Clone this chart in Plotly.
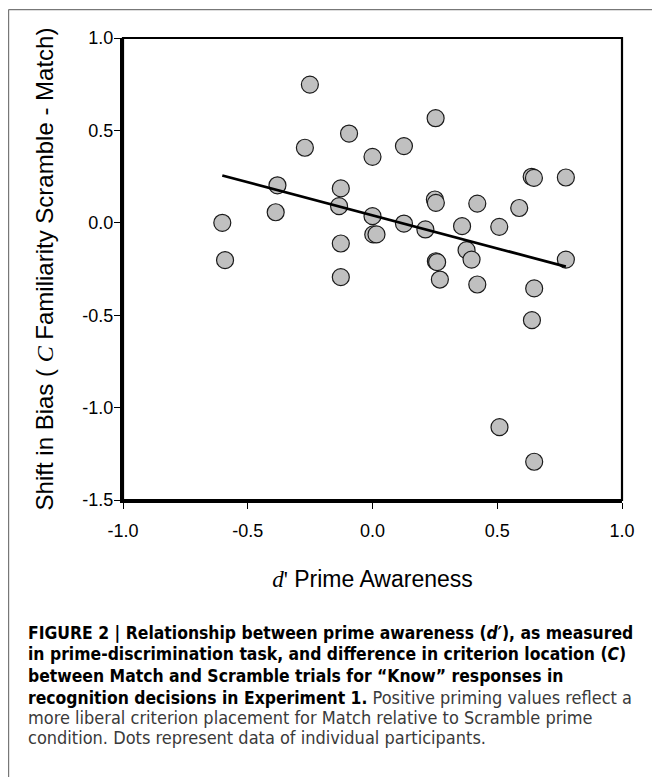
import plotly.graph_objects as go

# ---- data ----
prime_awareness = [-0.602, -0.591, -0.388, -0.381, -0.271, -0.251, -0.134, -0.127, -0.127, -0.127,
                   -0.094, 0.000, 0.000, 0.003, 0.016, 0.126, 0.126, 0.212, 0.253, 0.250,
                   0.254, 0.254, 0.259, 0.270, 0.359, 0.377, 0.397, 0.420, 0.420, 0.508,
                   0.509, 0.588, 0.638, 0.647, 0.648, 0.639, 0.648, 0.775, 0.775]
bias_shift = [0.000, -0.202, 0.057, 0.203, 0.406, 0.748, 0.090, 0.186, -0.112, -0.294,
              0.483, 0.357, 0.036, -0.063, -0.063, 0.415, -0.004, -0.036, 0.566, 0.126,
              0.108, -0.208, -0.213, -0.307, -0.018, -0.148, -0.199, 0.104, -0.334, -0.022,
              -1.106, 0.080, 0.249, 0.243, -0.355, -0.527, -1.293, 0.245, -0.199]
fit_x = [-0.602, 0.775]
fit_y = [0.256, -0.237]

x_ticks = [-1.0, -0.5, 0.0, 0.5, 1.0]
y_ticks = [1.0, 0.5, 0.0, -0.5, -1.0, -1.5]

NORMAL = "<span style='color:#3a3a3a;font-size:18px'>{}</span>"
caption_lines = [
    "<b>FIGURE 2 | Relationship between prime awareness (<i>d′</i>), as measured</b>",
    "<b>in prime-discrimination task, and difference in criterion location (<i>C</i>)</b>",
    "<b>between Match and Scramble trials for “Know” responses in</b>",
    "<b>recognition decisions in Experiment 1.</b>" + NORMAL.format(" Positive priming values reflect a"),
    NORMAL.format("more liberal criterion placement for Match relative to Scramble prime"),
    NORMAL.format("condition. Dots represent data of individual participants."),
]

# ---- layout geometry (pixels, page coordinates; the page body adds an 8px offset) ----
OFF = 8
W, H = 660 - OFF, 777 - OFF
L, R, T, B = 123 - OFF, 622 - OFF, 38 - OFF, 500 - OFF


def px_x(px):
    return (px - OFF - L) / (R - L)


def px_y(py):
    return (B - (py - OFF)) / (B - T)


fig = go.Figure()
fig.add_trace(go.Scatter(
    x=prime_awareness, y=bias_shift, mode="markers",
    marker=dict(size=17, color="#c0c0c0", line=dict(color="#1a1a1a", width=1.2)),
    showlegend=False, hoverinfo="x+y"))
fig.add_trace(go.Scatter(
    x=fit_x, y=fit_y, mode="lines",
    line=dict(color="black", width=2.7), showlegend=False, hoverinfo="skip"))

sans = "Liberation Sans, Arial, sans-serif"
tick_font = dict(family=sans, size=18, color="black")
fig.update_layout(
    width=W, height=H,
    margin=dict(l=L, r=W - R, t=T, b=H - B, pad=0),
    paper_bgcolor="white", plot_bgcolor="white",
    font=tick_font,
    xaxis=dict(range=[-1.0, 1.0], tickvals=x_ticks, ticktext=[f"{v:.1f}" for v in x_ticks],
               ticks="outside", ticklen=6, tickwidth=1.3, tickcolor="black",
               showline=True, linewidth=3, linecolor="black", showgrid=False, zeroline=False,
               tickfont=tick_font, ticklabelstandoff=6,
               title=dict(text="<span style='font-family:Liberation Serif'><i>d</i>'</span> Prime Awareness",
                          font=dict(family=sans, size=23, color="black"),
                          standoff=32)),
    yaxis=dict(range=[-1.5, 1.0], tickvals=y_ticks, ticktext=[f"{v:.1f}" for v in y_ticks],
               ticks="outside", ticklen=6, tickwidth=1.3, tickcolor="black",
               showline=True, linewidth=3, linecolor="black", showgrid=False, zeroline=False,
               tickfont=tick_font, ticklabelstandoff=-3,
               title=dict(text="Shift in Bias ( <span style='font-family:Liberation Serif'><i>C</i></span> Familiarity Scramble - Match)",
                          font=dict(family=sans, size=24, color="black"),
                          standoff=22)),
)

# top/right frame of the plot area
fig.add_shape(type="rect", xref="x domain", yref="y domain", x0=0, x1=1, y0=0, y1=1,
              line=dict(color="black", width=2.2), layer="above")

# outer figure frame (left and top edges visible)
fig.add_shape(type="line", xref="paper", yref="paper",
              x0=px_x(8.6), x1=px_x(8.6), y0=px_y(9.6), y1=px_y(790),
              line=dict(color="#777777", width=1.2))
fig.add_shape(type="line", xref="paper", yref="paper",
              x0=px_x(8.6), x1=px_x(680), y0=px_y(9.6), y1=px_y(9.6),
              line=dict(color="#777777", width=1.2))

caption_y = [633, 654, 676, 697, 717, 737]
for txt, cy in zip(caption_lines, caption_y):
    fig.add_annotation(text=txt, xref="paper", yref="paper", x=px_x(27), y=px_y(cy),
                       xanchor="left", yanchor="middle", showarrow=False, align="left",
                       borderpad=0,
                       font=dict(family="DejaVu Sans Condensed, DejaVu Sans, sans-serif",
                                 size=17.4, color="black"))

fig.write_html("out.html")
